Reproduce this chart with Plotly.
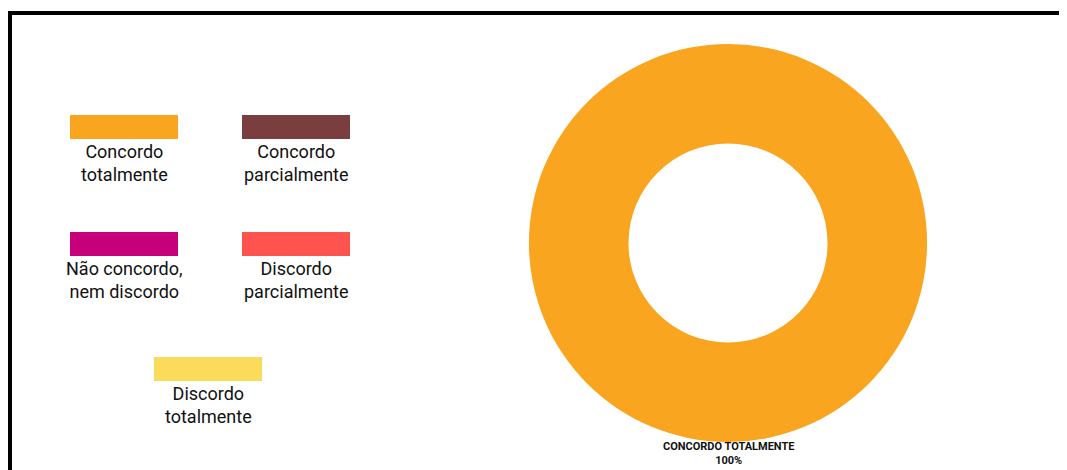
import plotly.graph_objects as go

W, H = 1067, 470
OFF = 8  # page body margin offset

categories = ["Concordo totalmente", "Concordo parcialmente", "Não concordo, nem discordo",
              "Discordo parcialmente", "Discordo totalmente"]
legend_labels = ["Concordo<br>totalmente", "Concordo<br>parcialmente", "Não concordo,<br>nem discordo",
                 "Discordo<br>parcialmente", "Discordo<br>totalmente"]
values = [100, 0, 0, 0, 0]
colors = ["#F9A51F", "#7B3E3E", "#C5007A", "#FF534F", "#FADC5A"]

# legend swatch layout (pixel positions: left, top)
swatch_pos = [(70, 115), (242, 115), (70, 232), (242, 232), (154, 357)]
SW_W, SW_H = 108, 24

FONT = "Roboto, DejaVu Sans, sans-serif"


def px(x):
    return (x - OFF) / W


def py(y):
    return 1 - (y - OFF) / H


fig = go.Figure()

cx, cy, r = 728, 243, 199
fig.add_trace(go.Pie(
    labels=categories, values=values, sort=False, direction="clockwise",
    hole=0.5, textinfo="none", showlegend=False,
    marker=dict(colors=colors, line=dict(width=0)),
    domain=dict(x=[px(cx - r), px(cx + r)], y=[py(cy + r), py(cy - r)]),
))

shapes = []
annotations = []

# frame lines (top and left)
shapes.append(dict(type="line", xref="paper", yref="paper", x0=px(8), x1=1, y0=py(13), y1=py(13),
                   line=dict(color="black", width=4)))
shapes.append(dict(type="line", xref="paper", yref="paper", x0=px(10), x1=px(10), y0=py(11), y1=0,
                   line=dict(color="black", width=4)))

for (lx, ty), col, lab in zip(swatch_pos, colors, legend_labels):
    shapes.append(dict(type="rect", xref="paper", yref="paper",
                       x0=px(lx), x1=px(lx + SW_W), y0=py(ty + SW_H), y1=py(ty),
                       fillcolor=col, line=dict(width=0)))
    annotations.append(dict(text=lab, xref="paper", yref="paper",
                            x=px(lx + SW_W / 2), y=py(ty + SW_H + 24),
                            xanchor="center", yanchor="middle", showarrow=False, align="center",
                            font=dict(family=FONT, size=18, color="#111111")))

# slice label below donut
total = sum(values)
main_idx = max(range(len(values)), key=lambda i: values[i])
pct = round(values[main_idx] / total * 100)
annotations.append(dict(text="<b>" + categories[main_idx].upper() + "</b><br><b>%d%%</b>" % pct,
                        xref="paper", yref="paper",
                        x=px(cx), y=py(453), xanchor="center", yanchor="middle", showarrow=False,
                        align="center",
                        font=dict(family=FONT, size=11, color="#111111")))

fig.update_layout(
    width=W, height=H, margin=dict(l=0, r=0, t=0, b=0),
    paper_bgcolor="white", plot_bgcolor="white",
    shapes=shapes, annotations=annotations,
)

fig.write_html("out.html")
